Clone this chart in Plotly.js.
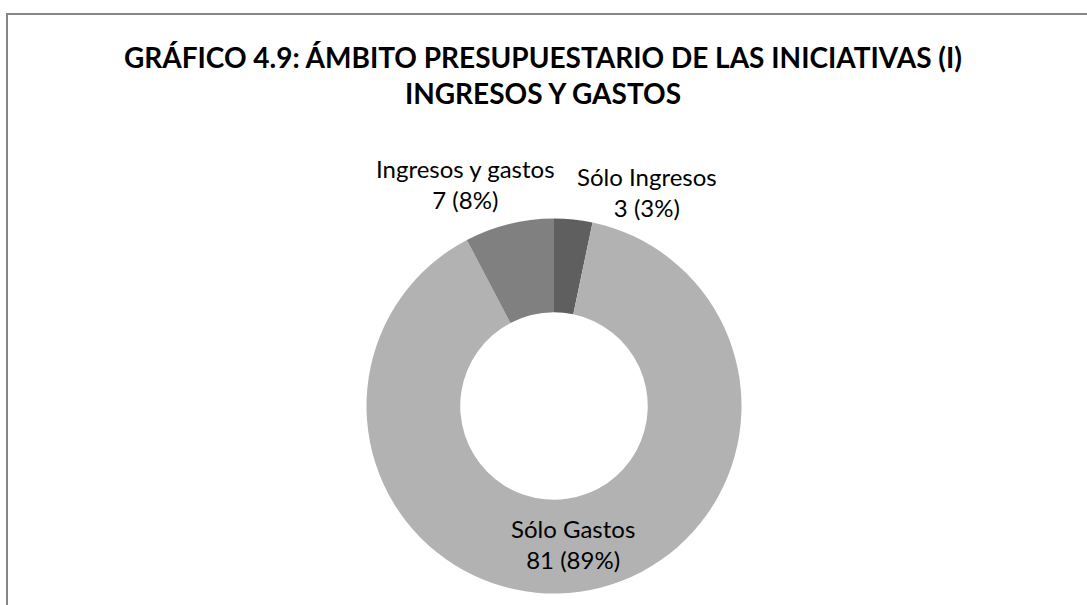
<!DOCTYPE html>
<html>
<head>
<meta charset="utf-8">
<script src="https://cdn.plot.ly/plotly-3.0.1.min.js"></script>
<style>html,body{margin:0;padding:0;background:#fff;}#chart{width:1087px;height:605px;}</style>
</head>
<body>
<div id="chart"></div>
<script>
var categories = ["Sólo Ingresos", "Sólo Gastos", "Ingresos y gastos"];
var values = [3, 81, 7];
var sliceColors = ["#5f5f5f", "#b2b2b2", "#808080"];
var titleText = "<b>GRÁFICO 4.9: ÁMBITO PRESUPUESTARIO DE LAS INICIATIVAS (I)<br>INGRESOS Y GASTOS</b>";

var total = values.reduce(function(a, b) { return a + b; }, 0);
function labelFor(i) {
  return categories[i] + "<br>" + values[i] + " (" + Math.round(values[i] / total * 100) + "%)";
}

var W = 1087, H = 605;
var cx = 554, cy = 406, R = 187.5;
function px(x) { return x / W; }
function py(y) { return 1 - y / H; }

var labelFont = {family: "Lato, 'Open Sans', sans-serif", size: 24, color: "#000"};
var labelPos = [[647, 192], [573, 544], [465, 184]];

var annotations = categories.map(function(c, i) {
  return {
    xref: "paper", yref: "paper",
    x: px(labelPos[i][0]), y: py(labelPos[i][1]),
    xanchor: "center", yanchor: "middle",
    text: labelFor(i), showarrow: false, align: "center",
    font: labelFont
  };
});

var trace = {
  type: "pie",
  labels: categories,
  values: values,
  hole: 0.5,
  sort: false,
  direction: "clockwise",
  rotation: 0,
  textinfo: "none",
  marker: {colors: sliceColors, line: {width: 0}},
  domain: {x: [px(cx - R), px(cx + R)], y: [py(cy + R), py(cy - R)]},
  showlegend: false,
  hoverinfo: "label+value+percent"
};

var layout = {
  width: W, height: H,
  margin: {l: 0, r: 0, t: 0, b: 0},
  paper_bgcolor: "#fff",
  showlegend: false,
  title: {
    text: titleText,
    x: 0.4995, xref: "paper", xanchor: "center",
    y: py(68), yref: "paper", yanchor: "middle",
    font: {family: "Lato, 'Open Sans', sans-serif", size: 28, color: "#000"}
  },
  annotations: annotations,
  shapes: [{
    type: "rect", xref: "paper", yref: "paper",
    x0: px(7), x1: 1.05, y0: -0.05, y1: py(14),
    line: {color: "#868686", width: 2}, fillcolor: "rgba(0,0,0,0)"
  }]
};

Plotly.newPlot("chart", [trace], layout, {displayModeBar: false, staticPlot: true});
</script>
</body>
</html>
